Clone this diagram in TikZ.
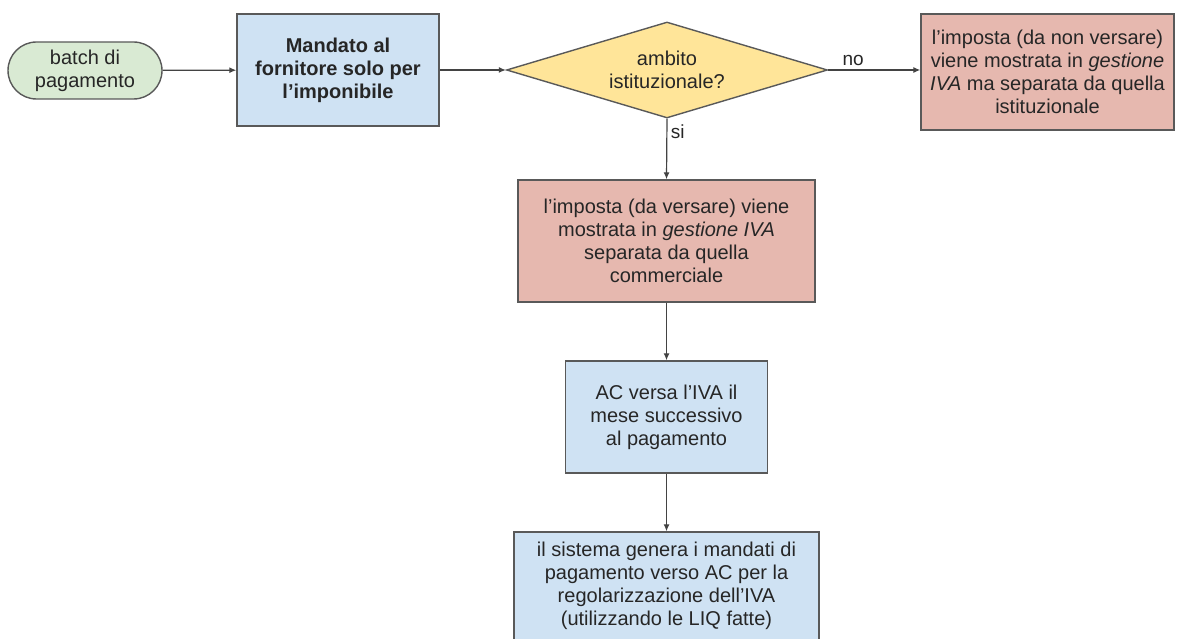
\documentclass[tikz,border=0pt]{standalone}
\usepackage{fontspec}
\setmainfont{Liberation Sans}
\usetikzlibrary{shapes.geometric,shapes.misc,arrows.meta}
\definecolor{bordc}{HTML}{595959}
\definecolor{linec}{HTML}{434343}
\definecolor{greenf}{HTML}{D9EAD3}
\definecolor{bluef}{HTML}{CFE2F3}
\definecolor{redf}{HTML}{E6B8AF}
\definecolor{yellowf}{HTML}{FFE599}
\tikzset{
  base/.style={draw=bordc, line width=1.4pt, inner sep=0pt, align=center,
    font=\fontsize{20}{23}\selectfont, text=black!85},
  boxstyle/.style={base, rectangle},
  termstyle/.style={base, rounded rectangle, fill=greenf},
  decstyle/.style={base, diamond, fill=yellowf, aspect=3.3},
  conn/.style={draw=linec, line width=1.2pt, -{Latex[length=7pt,width=6pt]}},
  lab/.style={font=\fontsize{19}{22}\selectfont, text=black!85}
}
\begin{document}
\begin{tikzpicture}[x=1pt,y=-1pt]
\useasboundingbox (0,0) rectangle (1197,639);
\begin{scope}
\clip (0,0) rectangle (1197,639);
\node[termstyle, minimum width=154pt, minimum height=57pt] (batch) at (85,70.5) {batch di\\pagamento};
\node[boxstyle, fill=bluef, minimum width=202pt, minimum height=112pt, font=\fontsize{20}{23}\selectfont\bfseries] (mand) at (338,70) {Mandato al\\fornitore solo per\\l’imponibile};
\node[decstyle, minimum width=321pt, minimum height=96pt] (dec) at (667,70) {ambito\\istituzionale?};
\node[boxstyle, fill=redf, minimum width=253pt, minimum height=116pt] (nobox) at (1047.5,72) {l’imposta (da non versare)\\viene mostrata in \textit{gestione}\\\textit{IVA} ma separata da quella\\istituzionale};
\node[boxstyle, fill=redf, minimum width=297pt, minimum height=122pt] (sibox) at (666.5,241) {l’imposta (da versare) viene\\mostrata in \textit{gestione IVA}\\separata da quella\\commerciale};
\node[boxstyle, fill=bluef, minimum width=202pt, minimum height=112pt] (ac) at (666.5,417) {AC versa l’IVA il\\mese successivo\\al pagamento};
\node[boxstyle, fill=bluef, minimum width=305pt, minimum height=108pt] (sys) at (666.5,586) {il sistema genera i mandati di\\pagamento verso AC per la\\regolarizzazione dell’IVA\\(utilizzando le LIQ fatte)};
\draw[conn] (batch) -- (mand);
\draw[conn] (mand) -- (dec);
\draw[conn] (dec.east) -- node[lab, above, pos=0.27] (nolab) {no} (nobox.west |- dec.east);
\draw[conn] (dec.south) -- node[lab, right, pos=0.22] (silab) {si} (sibox.north);
\draw[conn] (sibox) -- (ac);
\draw[conn] (ac) -- (sys);
\end{scope}
\end{tikzpicture}
\end{document}
